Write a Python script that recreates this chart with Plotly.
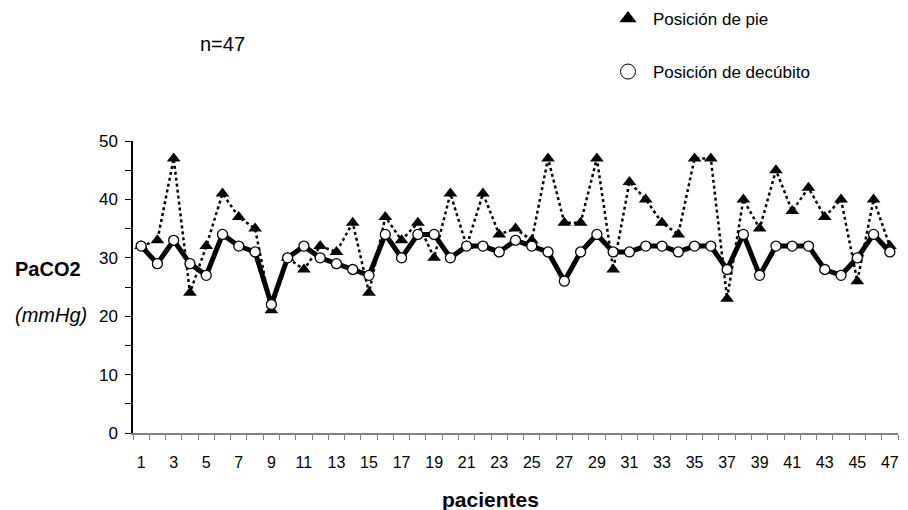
import plotly.graph_objects as go

pacientes = list(range(1, 48))
pie = [32, 33, 47, 24, 32, 41, 37, 35, 21, 30,
       28, 32, 31, 36, 24, 37, 33, 36, 30, 41,
       32, 41, 34, 35, 33, 47, 36, 36, 47, 28,
       43, 40, 36, 34, 47, 47, 23, 40, 35, 45,
       38, 42, 37, 40, 26, 40, 32]
decubito = [32, 29, 33, 29, 27, 34, 32, 31, 22, 30,
            32, 30, 29, 28, 27, 34, 30, 34, 34, 30,
            32, 32, 31, 33, 32, 31, 26, 31, 34, 31,
            31, 32, 32, 31, 32, 32, 28, 34, 27, 32,
            32, 32, 28, 27, 30, 34, 31]
xtick_vals = list(range(1, 48, 2))
xtick_text = [str(v) for v in xtick_vals]
xminor_vals = [v + 0.5 for v in range(0, 48)]
ytick_vals = [0, 10, 20, 30, 40, 50]

FONT = "Liberation Sans, Arial, sans-serif"
W, H = 908, 510
L, R, T, B = 133, 10, 141, 77
PW, PH = W - L - R, H - T - B


def px(x):
    return (x - L) / PW


def py(y):
    return (H - B - y) / PH


fig = go.Figure()
fig.add_trace(go.Scatter(
    x=pacientes, y=pie, mode="lines+markers", showlegend=False,
    line=dict(color="black", width=2.5, dash="dot"),
    marker=dict(symbol="triangle-up", size=12, color="black"),
))
fig.add_trace(go.Scatter(
    x=pacientes, y=decubito, mode="lines+markers", showlegend=False,
    line=dict(color="black", width=5),
    marker=dict(symbol="circle", size=10, color="white",
                line=dict(color="black", width=1.3)),
))
# legend-only traces
fig.add_trace(go.Scatter(
    x=[None], y=[None], mode="markers", name="Posición de pie",
    marker=dict(symbol="triangle-up", size=15, color="black"),
    legend="legend",
))
fig.add_trace(go.Scatter(
    x=[None], y=[None], mode="markers", name="Posición de decúbito",
    marker=dict(symbol="circle", size=15, color="white",
                line=dict(color="black", width=1)),
    legend="legend2",
))

fig.update_layout(
    width=W, height=H,
    margin=dict(l=L, r=R, t=T, b=B, autoexpand=False),
    paper_bgcolor="white", plot_bgcolor="white",
    font=dict(family=FONT, size=16, color="black"),
    legend=dict(xref="container", yref="container", x=603 / W, y=1 - 19 / H,
                xanchor="left", yanchor="middle", bgcolor="rgba(0,0,0,0)",
                itemwidth=40, font=dict(size=17)),
    legend2=dict(xref="container", yref="container", x=603 / W, y=1 - 72 / H,
                 xanchor="left", yanchor="middle", bgcolor="rgba(0,0,0,0)",
                 itemwidth=40, font=dict(size=17)),
    xaxis=dict(
        range=[0.5, 47.5], tickmode="array", tickvals=xtick_vals,
        ticktext=xtick_text, ticks="", showgrid=False, zeroline=False,
        showline=True, linecolor="#808080", linewidth=1.5,
        ticklabelstandoff=14, tickfont=dict(size=16),
        minor=dict(tickmode="array", tickvals=xminor_vals, ticks="outside",
                   ticklen=5, tickcolor="#808080", tickwidth=1, showgrid=False),
    ),
    yaxis=dict(
        range=[0, 50], tickmode="array", tickvals=ytick_vals,
        ticks="outside", ticklen=6, tickcolor="black", tickwidth=1,
        showgrid=False, zeroline=False, showline=True, linecolor="black",
        linewidth=1.5, ticklabelstandoff=4, tickfont=dict(size=17),
        minor=dict(dtick=5, ticks="outside", ticklen=6, tickcolor="black",
                   showgrid=False),
    ),
    annotations=[
        dict(text="n=47", xref="paper", yref="paper",
             x=px(198), y=py(44), xanchor="left",
             yanchor="middle", showarrow=False, font=dict(size=20)),
        dict(text="<b>PaCO2</b>", xref="paper", yref="paper",
             x=px(13), y=py(269), xanchor="left",
             yanchor="middle", showarrow=False, font=dict(size=20)),
        dict(text="<i>(mmHg)</i>", xref="paper", yref="paper",
             x=px(13), y=py(315), xanchor="left",
             yanchor="middle", showarrow=False, font=dict(size=20)),
        dict(text="<b>pacientes</b>", xref="paper", yref="paper",
             x=px(490), y=py(499), xanchor="center",
             yanchor="middle", showarrow=False, font=dict(size=21)),
    ],
)

fig.write_html("out.html")
